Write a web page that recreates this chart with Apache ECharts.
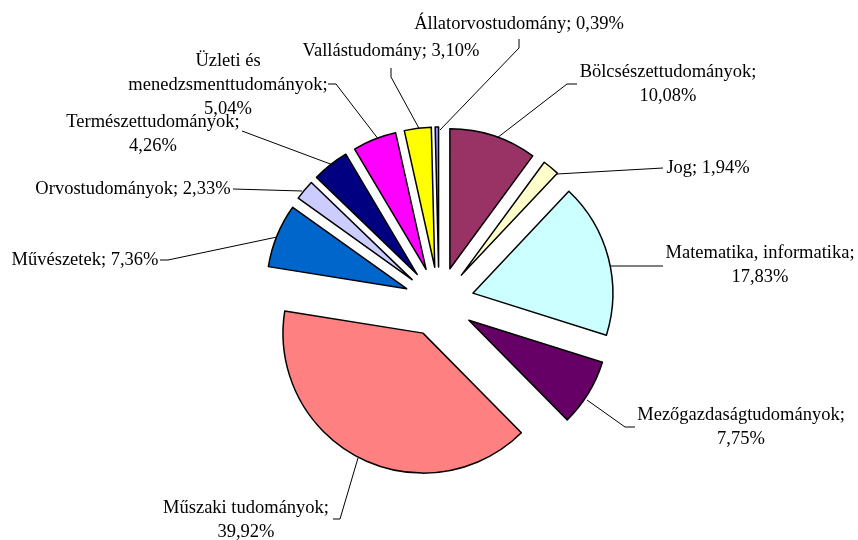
<!DOCTYPE html>
<html>
<head>
<meta charset="utf-8">
<script src="https://cdn.jsdelivr.net/npm/echarts@6/dist/echarts.min.js"></script>
<style>
  html, body { margin: 0; padding: 0; background: #fff; }
  #chart { width: 858px; height: 540px; }
</style>
</head>
<body>
<div id="chart"></div>
<script>
// slices, clockwise from 12 o'clock
var categories = [
  'Bölcsészettudományok',
  'Jog',
  'Matematika, informatika',
  'Mezőgazdaságtudományok',
  'Műszaki tudományok',
  'Művészetek',
  'Orvostudományok',
  'Természettudományok',
  'Üzleti és menedzsmenttudományok',
  'Vallástudomány',
  'Állatorvostudomány'
]
var shares = [10.08, 1.94, 17.83, 7.75, 39.92, 7.36, 2.33, 4.26, 5.04, 3.10, 0.39]
var colors = ['#993366', '#FFFFCC', '#CCFFFF', '#660066', '#FF8080', '#0066CC',
  '#CCCCFF', '#000080', '#FF00FF', '#FFFF00', '#9999FF']

// label block centres and leader lines (excel-like placement)
var labelPos = [
  { x: 668, y: 84, line: [[497, 138], [567, 84], [577, 84]] },
  { x: 708, y: 168, line: [[557, 174], [663, 168]] },
  { x: 760, y: 265, line: [[610, 266], [663, 266]] },
  { x: 741, y: 427, line: [[587, 400], [625, 427], [635, 427]] },
  { x: 246, y: 520, line: [[358, 458], [340, 519], [333, 519]] },
  { x: 85, y: 260, line: [[277, 237], [168, 260], [160, 260]] },
  { x: 133, y: 189, line: [[302, 191], [233, 189]] },
  { x: 153, y: 134, line: [[333, 165], [242, 131]] },
  { x: 228, y: 85, line: [[379, 140], [336, 84], [328, 84]] },
  { x: 391, y: 51, line: [[421, 132], [391, 77], [391, 68]] },
  { x: 519, y: 24, line: [[440, 130], [519, 48], [519, 39]] }
]
var twoLines = [0, 2, 3, 4, 7, 8]

var cx = 439, cy = 302, explode = 35

var chart = echarts.init(document.getElementById('chart'))

var total = shares.reduce(function (a, b) { return a + b }, 0)

function labelText(name, value, i) {
  var val = value.toFixed(2).replace('.', ',') + '%'
  var n = name.replace('Üzleti és ', 'Üzleti és\n')
  var sep = twoLines.indexOf(i) >= 0 ? ';\n' : '; '
  return n + sep + val
}

// one pie per slice so every slice can be pulled out along its own mid angle
var series = []
var acc = 0
categories.forEach(function (cat, i) {
  var mid = (acc + shares[i] / 2) / total * Math.PI * 2
  acc += shares[i]
  var data = categories.map(function (name, j) {
    if (j === i) {
      return { name: name, value: shares[j], itemStyle: { color: colors[j] } }
    }
    return {
      name: name,
      value: shares[j],
      itemStyle: { color: 'rgba(0,0,0,0)', borderWidth: 0 },
      label: { show: false },
      labelLine: { show: false }
    }
  })
  series.push({
    type: 'pie',
    center: [cx + explode * Math.sin(mid), cy - explode * Math.cos(mid)],
    radius: 140,
    startAngle: 90,
    clockwise: true,
    avoidLabelOverlap: false,
    silent: true,
    emphasis: { disabled: true },
    itemStyle: { borderColor: '#000', borderWidth: 1.5 },
    label: {
      show: true,
      position: 'outside',
      color: '#000',
      fontFamily: 'Liberation Serif',
      fontSize: 18.5,
      lineHeight: 24,
      align: 'center',
      formatter: function (p) {
        return labelText(p.name, p.value, p.dataIndex)
      }
    },
    labelLine: {
      show: true,
      smooth: false,
      lineStyle: { color: '#000', width: 1 }
    },
    labelLayout: function (params) {
      var lp = labelPos[params.dataIndex]
      return {
        x: lp.x,
        y: lp.y,
        align: 'center',
        verticalAlign: 'middle',
        labelLinePoints: lp.line
      }
    },
    data: data
  })
})

chart.setOption({
  animation: false,
  backgroundColor: '#fff',
  series: series
})
</script>
</body>
</html>
